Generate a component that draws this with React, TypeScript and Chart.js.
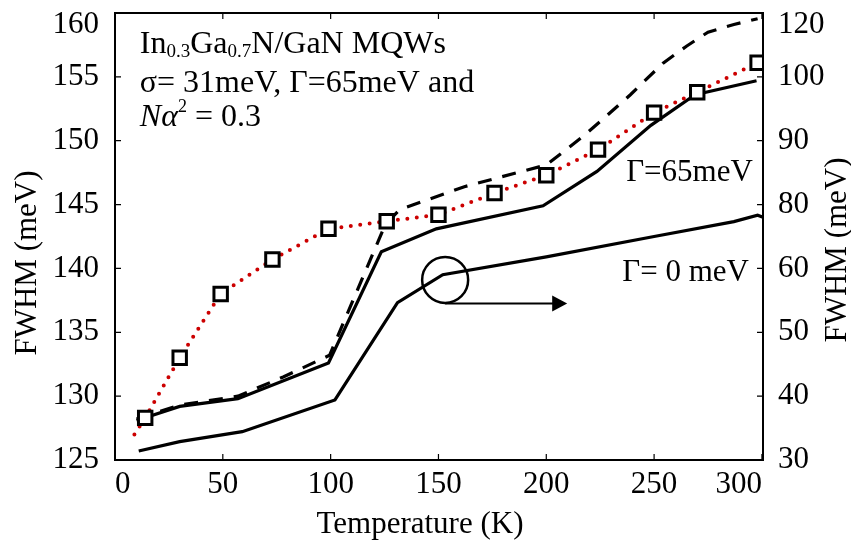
import React, { useEffect, useRef } from "react";
import { Chart, registerables } from "chart.js";

Chart.register(...registerables);

const FONT = "'Liberation Serif', 'Times New Roman', Times, serif";

// Experimental FWHM (open squares), left axis
const expTemp = [14, 30, 49, 73, 99, 126, 150, 176, 200, 224, 250, 270, 298];
const expFwhm = [128.3, 133.0, 138.0, 140.7, 143.1, 143.7, 144.2, 145.9, 147.3, 149.3, 152.2, 153.8, 156.1];

// Red dotted guide through the experimental points
const guideTemp = [9, 14, 30, 49, 73, 99, 126, 150, 176, 200, 224, 250, 270, 298];
const guideFwhm = [127.0, 128.3, 133.0, 138.0, 140.7, 143.1, 143.7, 144.2, 145.9, 147.3, 149.3, 152.2, 153.8, 156.1];

// Dashed curve, left axis
const dashTemp = [10, 30, 57, 78, 99.5, 124, 128, 132, 162, 200, 216, 225, 239, 254, 265, 275, 287, 298];
const dashFwhm = [128.2, 129.3, 130.0, 131.5, 133.2, 142.9, 143.9, 144.6, 146.4, 148.1, 150.2, 151.5, 153.6, 156.05, 157.4, 158.5, 159.1, 159.55];

// Solid curve Γ = 65 meV, left axis
const g65Temp = [10, 30, 57, 99, 123.5, 149, 198.5, 223.5, 248.5, 269, 297.5];
const g65Fwhm = [128.1, 129.2, 129.8, 132.6, 141.3, 143.1, 144.9, 147.6, 151.2, 153.6, 154.7];

// Solid curve Γ = 0 meV, right axis
const g0Temp = [11, 30, 59, 102, 131, 152, 200, 250, 287, 298, 300.5];
const g0Fwhm = [31.8, 33.7, 35.7, 42.1, 61.7, 67.3, 70.9, 75.0, 78.0, 79.3, 78.9];

// Axes
const xTicks = [0, 50, 100, 150, 200, 250, 300];
const rightTickLabels = ["30", "40", "50", "60", "80", "90", "100", "120"];

const toXY = (xs: number[], ys: number[]) => xs.map((x, i) => ({ x, y: ys[i] }));

type Run = { text: string; size: number; style?: string; dy?: number };

function drawRuns(ctx: CanvasRenderingContext2D, x: number, y: number, runs: Run[]) {
  let cx = x;
  for (const r of runs) {
    ctx.font = `${r.style || "normal"} ${r.size}px ${FONT}`;
    ctx.fillText(r.text, cx, y + (r.dy || 0));
    cx += ctx.measureText(r.text).width;
  }
}

const overlay = {
  id: "overlay",
  afterDatasetsDraw(chart: any) {
    const { ctx, chartArea: a, scales } = chart;
    const sx = scales.x;
    const sy = scales.y;
    const sy2 = scales.y2;
    const TICK = 6;
    ctx.save();
    ctx.strokeStyle = "#000";
    ctx.fillStyle = "#000";

    // frame
    ctx.lineWidth = 2;
    ctx.strokeRect(a.left, a.top, a.right - a.left, a.bottom - a.top);

    // inward ticks
    ctx.lineWidth = 1.2;
    ctx.beginPath();
    sx.ticks.forEach((t: any) => {
      const p = sx.getPixelForValue(t.value);
      ctx.moveTo(p, a.bottom);
      ctx.lineTo(p, a.bottom - TICK);
      ctx.moveTo(p, a.top);
      ctx.lineTo(p, a.top + TICK);
    });
    sy.ticks.forEach((t: any) => {
      const p = sy.getPixelForValue(t.value);
      ctx.moveTo(a.left, p);
      ctx.lineTo(a.left + TICK, p);
    });
    sy2.ticks.forEach((t: any) => {
      const p = sy2.getPixelForValue(t.value);
      ctx.moveTo(a.right, p);
      ctx.lineTo(a.right - TICK, p);
    });
    ctx.stroke();

    // circle marking the Γ=0 curve and arrow to right axis
    const cx = sx.getPixelForValue(153.1);
    const cy = sy.getPixelForValue(139.1);
    ctx.lineWidth = 2.5;
    ctx.beginPath();
    ctx.arc(cx, cy, 23, 0, Math.PI * 2);
    ctx.stroke();
    const ay = sy.getPixelForValue(137.25);
    const ax2 = sx.getPixelForValue(209.7);
    ctx.lineWidth = 2;
    ctx.beginPath();
    ctx.moveTo(cx, ay);
    ctx.lineTo(ax2 - 12, ay);
    ctx.stroke();
    ctx.beginPath();
    ctx.moveTo(ax2, ay);
    ctx.lineTo(ax2 - 15, ay - 8);
    ctx.lineTo(ax2 - 15, ay + 8);
    ctx.closePath();
    ctx.fill();

    // text annotations
    ctx.textAlign = "left";
    ctx.textBaseline = "alphabetic";
    const tx = sx.getPixelForValue(11.5);
    drawRuns(ctx, tx, sy.getPixelForValue(156.83), [
      { text: "In", size: 32 },
      { text: "0.3", size: 19, dy: 4 },
      { text: "Ga", size: 32 },
      { text: "0.7", size: 19, dy: 4 },
      { text: "N/GaN MQWs", size: 32 },
    ]);
    drawRuns(ctx, tx, sy.getPixelForValue(153.84), [{ text: "σ= 31meV, Γ=65meV and", size: 32 }]);
    drawRuns(ctx, tx, sy.getPixelForValue(151.15), [
      { text: "N", size: 32, style: "italic" },
      { text: "α", size: 32, style: "italic" },
      { text: "2", size: 18, dy: -14 },
      { text: " = 0.3", size: 32 },
    ]);

    ctx.textAlign = "right";
    ctx.font = `31px ${FONT}`;
    ctx.fillText("Γ=65meV", sx.getPixelForValue(295.8), sy.getPixelForValue(146.85));
    ctx.fillText("Γ= 0 meV", sx.getPixelForValue(294.0), sy.getPixelForValue(139.05));

    // axis titles
    ctx.textAlign = "center";
    ctx.fillText("Temperature (K)", 420, 533);
    ctx.save();
    ctx.translate(36, 263);
    ctx.rotate(-Math.PI / 2);
    ctx.fillText("FWHM (meV)", 0, 0);
    ctx.restore();
    ctx.save();
    ctx.translate(846, 250);
    ctx.rotate(-Math.PI / 2);
    ctx.fillText("FWHM (meV)", 0, 0);
    ctx.restore();

    ctx.restore();
  },
};

export default function App() {
  const ref = useRef<HTMLCanvasElement | null>(null);

  useEffect(() => {
    const canvas = ref.current;
    if (!canvas) return;
    // lineHeight 24px: a two-line label ["", "160"] drops the top label by 12px, as in the reference
    const tickFont = { family: FONT, size: 31, lineHeight: "24px" };
    const chart = new Chart(canvas, {
      type: "line",
      data: {
        datasets: [
          {
            label: "Experiment",
            data: toXY(expTemp, expFwhm),
            showLine: false,
            pointStyle: "rect",
            pointRadius: 9.5,
            pointBorderWidth: 3,
            pointBorderColor: "#000",
            pointBackgroundColor: "#fff",
            borderColor: "#000",
            backgroundColor: "#fff",
            yAxisID: "y",
          },
          {
            label: "Guide",
            data: toXY(guideTemp, guideFwhm),
            borderColor: "#cc0000",
            borderWidth: 4,
            borderDash: [0, 9.5],
            borderCapStyle: "round",
            pointRadius: 0,
            fill: false,
            yAxisID: "y",
          },
          {
            label: "Dashed",
            data: toXY(dashTemp, dashFwhm),
            borderColor: "#000",
            borderWidth: 3.2,
            borderDash: [14, 11],
            pointRadius: 0,
            fill: false,
            yAxisID: "y",
          },
          {
            label: "Γ=65meV",
            data: toXY(g65Temp, g65Fwhm),
            borderColor: "#000",
            borderWidth: 3.2,
            pointRadius: 0,
            fill: false,
            yAxisID: "y",
          },
          {
            label: "Γ= 0 meV",
            data: toXY(g0Temp, g0Fwhm),
            borderColor: "#000",
            borderWidth: 3.2,
            pointRadius: 0,
            fill: false,
            yAxisID: "y2",
          },
        ],
      },
      options: {
        responsive: false,
        devicePixelRatio: 1,
        animation: false,
        layout: { padding: { top: 13, left: 0, right: 0, bottom: 0 } },
        plugins: { legend: { display: false }, tooltip: { enabled: false } },
        scales: {
          x: {
            type: "linear",
            min: 0,
            max: 300.5,
            grid: { display: false },
            border: { display: false },
            afterBuildTicks: (s: any) => {
              s.ticks = xTicks.map((v) => ({ value: v }));
            },
            afterFit: (s: any) => {
              s.height = 80;
              s.paddingLeft = 0;
              s.paddingRight = 0;
            },
            ticks: {
              align: "inner",
              autoSkip: false,
              maxRotation: 0,
              padding: -2,
              color: "#000",
              font: { family: FONT, size: 31 },
            },
          },
          y: {
            type: "linear",
            position: "left",
            min: 125,
            max: 160,
            grid: { display: false },
            border: { display: false },
            afterFit: (s: any) => {
              s.width = 115;
              s.paddingTop = 0;
              s.paddingBottom = 0;
            },
            ticks: {
              stepSize: 5,
              padding: 8,
              color: "#000",
              font: tickFont,
              callback: (v: any, i: number, arr: any[]) => (i === arr.length - 1 ? ["", String(v)] : String(v)),
            },
          },
          y2: {
            type: "linear",
            position: "right",
            min: 30,
            max: 120,
            grid: { display: false },
            border: { display: false },
            afterBuildTicks: (s: any) => {
              s.ticks = rightTickLabels.map((_, i) => ({ value: 30 + (i * 90) / 7 }));
            },
            afterFit: (s: any) => {
              s.width = 88;
              s.paddingTop = 0;
              s.paddingBottom = 0;
            },
            ticks: {
              padding: 7,
              color: "#000",
              font: tickFont,
              autoSkip: false,
              callback: (_v: any, i: number) =>
                i === rightTickLabels.length - 1 ? ["", rightTickLabels[i]] : rightTickLabels[i],
            },
          },
        },
      } as any,
      plugins: [overlay],
    });
    return () => chart.destroy();
  }, []);

  return (
    <div style={{ position: "absolute", left: 0, top: 0, width: 851, height: 540, background: "#fff" }}>
      <canvas ref={ref} width={851} height={540} style={{ display: "block" }} />
    </div>
  );
}
